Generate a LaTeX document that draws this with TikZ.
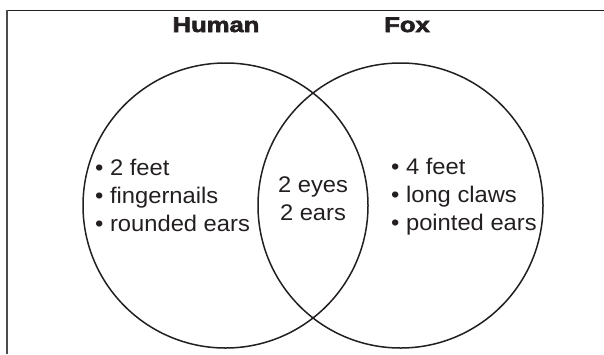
\documentclass[tikz,border=0pt]{standalone}
\usepackage{fontspec}
\newfontfamily\bodyfont[FakeStretch=1.05]{Liberation Sans}
\newfontfamily\titlefont[FakeStretch=1.22,FakeBold=3]{Liberation Sans Bold}
\definecolor{ink}{HTML}{231F20}
\begin{document}
\begin{tikzpicture}[x=1pt,y=-1pt,
  set/.style={circle,draw=ink,line width=1.5pt,inner sep=0pt,minimum size=285pt},
  title/.style={inner sep=0pt,text=ink,font=\titlefont\fontsize{21}{24}\selectfont},
  item/.style={inner sep=0pt,text=ink,font=\bodyfont\fontsize{22.6}{28}\selectfont}]
\useasboundingbox (0,0) rectangle (604,354);
% frame
\coordinate (tl) at (6.7,10.3);
\coordinate (tr) at (604,10.3);
\coordinate (bl) at (6.7,354);
\draw[ink,line width=1.2pt] (tl) -- (tr);
\draw[black!70,line width=1.8pt] (tl) -- (bl);
% sets
\node[set] (human) at (225.5,205.5) {};
\node[set] (fox) at (400.5,205.5) {};
% titles
\node[title,anchor=base] (thuman) at (216,32) {Human};
\node[title,anchor=base] (tfox) at (407,32) {Fox};
% left items
\node[item,anchor=base west] (h1) at (95,175) {• 2 feet};
\node[item,anchor=base west] (h2) at (95,203) {• fingernails};
\node[item,anchor=base west] (h3) at (95,231) {• rounded ears};
% shared
\node[item,anchor=base] (b1) at (313,192) {2 eyes};
\node[item,anchor=base] (b2) at (313,220) {2 ears};
% right items
\node[item,anchor=base west] (f1) at (391,174) {• 4 feet};
\node[item,anchor=base west] (f2) at (391,202) {• long claws};
\node[item,anchor=base west] (f3) at (391,230) {• pointed ears};
\end{tikzpicture}
\end{document}
